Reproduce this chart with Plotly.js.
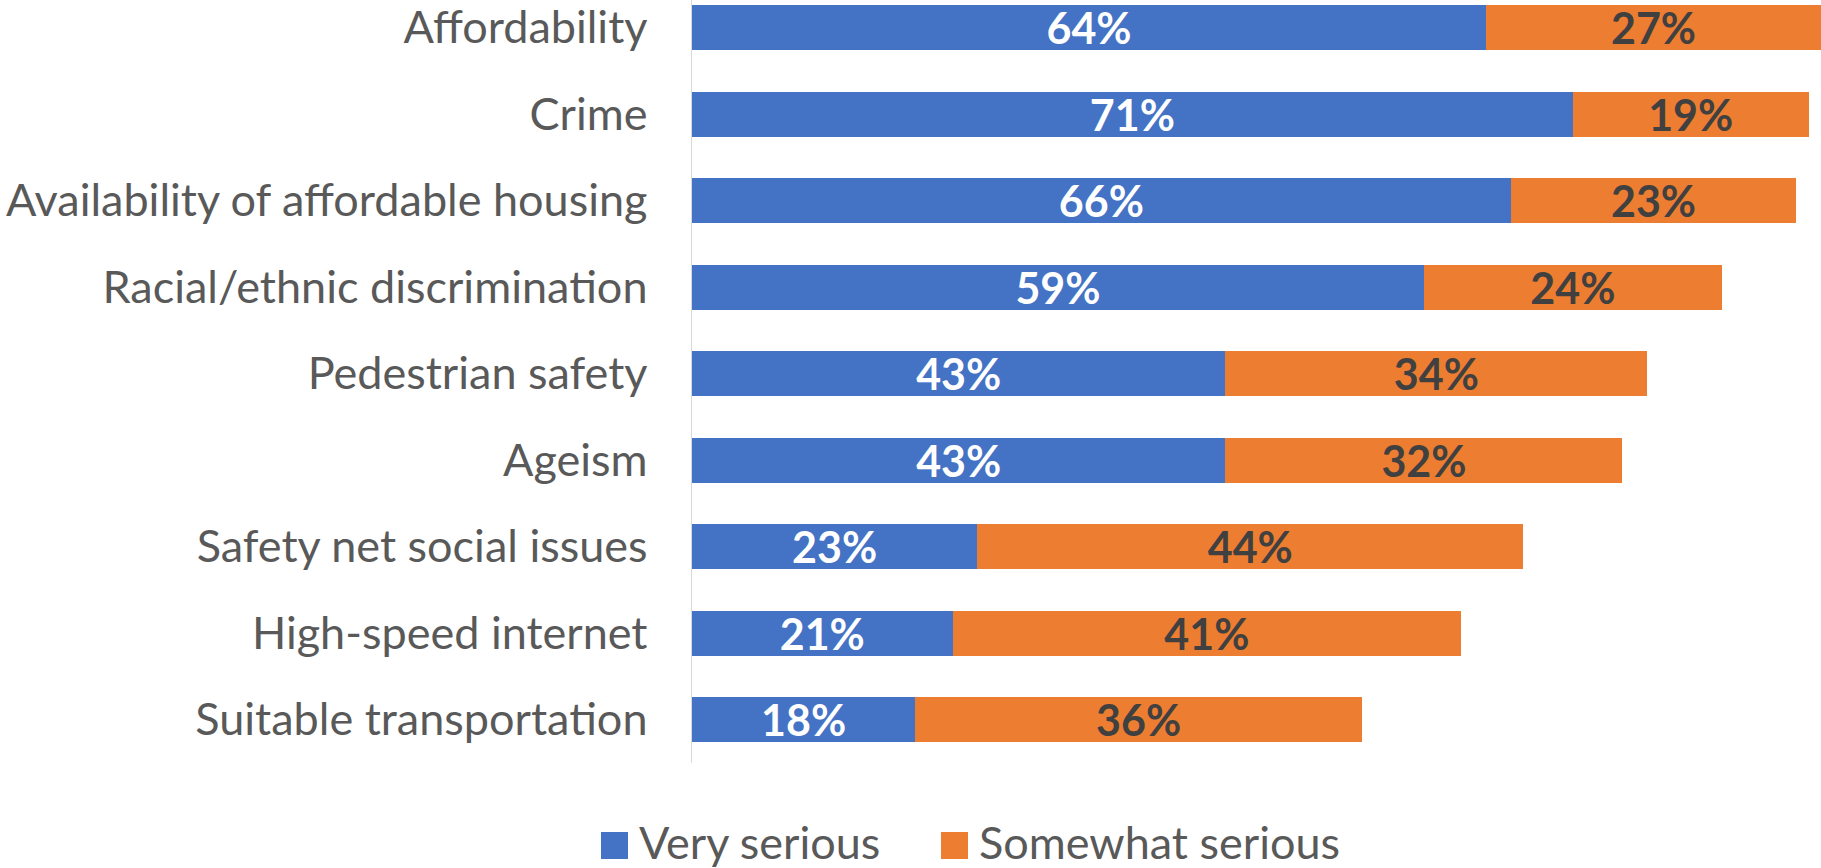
<!DOCTYPE html>
<html>
<head>
<meta charset="utf-8">
<script src="https://cdn.plot.ly/plotly-3.0.1.min.js"></script>
<style>
html,body{margin:0;padding:0;background:#fff;}
#chart{width:1821px;height:868px;}
</style>
</head>
<body>
<div id="chart"></div>
<script>
const categories = [
  "Affordability",
  "Crime",
  "Availability of affordable housing",
  "Racial/ethnic discrimination",
  "Pedestrian safety",
  "Ageism",
  "Safety net social issues",
  "High-speed internet",
  "Suitable transportation"
];
const verySerious = [64, 71, 66, 59, 43, 43, 23, 21, 18];
const somewhatSerious = [27, 19, 23, 24, 34, 32, 44, 41, 36];
const seriesNames = ["Very serious", "Somewhat serious"];
const seriesColors = ["#4472C4", "#ED7D31"];

const FONT = "Lato, 'Noto Sans', sans-serif";

const traces = [
  {
    type: "bar", orientation: "h", name: seriesNames[0],
    y: categories, x: verySerious,
    marker: {color: seriesColors[0]},
    text: verySerious.map(v => v + "%"),
    textposition: "inside", insidetextanchor: "middle", textangle: 0,
    constraintext: "none", cliponaxis: false,
    textfont: {family: FONT, size: 43, color: "#ffffff", weight: "bold"},
    hoverinfo: "skip"
  },
  {
    type: "bar", orientation: "h", name: seriesNames[1],
    y: categories, x: somewhatSerious,
    marker: {color: seriesColors[1]},
    text: somewhatSerious.map(v => v + "%"),
    textposition: "inside", insidetextanchor: "middle", textangle: 0,
    constraintext: "none", cliponaxis: false,
    textfont: {family: FONT, size: 43, color: "#404040", weight: "bold"},
    hoverinfo: "skip"
  }
];

function px2x(p){ return (p - 692) / 1129; }
function py2y(p){ return (763 - p) / 763; }

const shapes = [
  {type:"rect", xref:"paper", yref:"paper", x0:px2x(601), x1:px2x(628), y0:py2y(832), y1:py2y(859), fillcolor:seriesColors[0], line:{width:0}},
  {type:"rect", xref:"paper", yref:"paper", x0:px2x(941), x1:px2x(968), y0:py2y(832), y1:py2y(859), fillcolor:seriesColors[1], line:{width:0}}
];
const annotations = [
  {xref:"paper", yref:"paper", x:px2x(637), y:py2y(842), xanchor:"left", yanchor:"middle", showarrow:false, text:seriesNames[0], font:{family:FONT, size:45, color:"#595959"}},
  {xref:"paper", yref:"paper", x:px2x(977), y:py2y(842), xanchor:"left", yanchor:"middle", showarrow:false, text:seriesNames[1], font:{family:FONT, size:45, color:"#595959"}}
];

const layout = {
  width: 1821, height: 868,
  margin: {l: 692, r: 0, t: 0, b: 105, pad: 0},
  paper_bgcolor: "#ffffff", plot_bgcolor: "#ffffff",
  barmode: "stack", bargap: 0.48,
  showlegend: false,
  xaxis: {range: [0, 91], visible: false, fixedrange: true},
  yaxis: {
    type: "category", categoryorder: "array", categoryarray: categories,
    range: [8.5, -0.318], showgrid: false, zeroline: false,
    showline: true, linecolor: "#d9d9d9", linewidth: 1.5,
    ticks: "", ticklabelstandoff: 34,
    tickfont: {family: FONT, size: 45, color: "#595959"},
    fixedrange: true
  },
  shapes: shapes,
  annotations: annotations,
  font: {family: FONT}
};

Plotly.newPlot("chart", traces, layout, {displayModeBar: false, staticPlot: true});
</script>
</body>
</html>
